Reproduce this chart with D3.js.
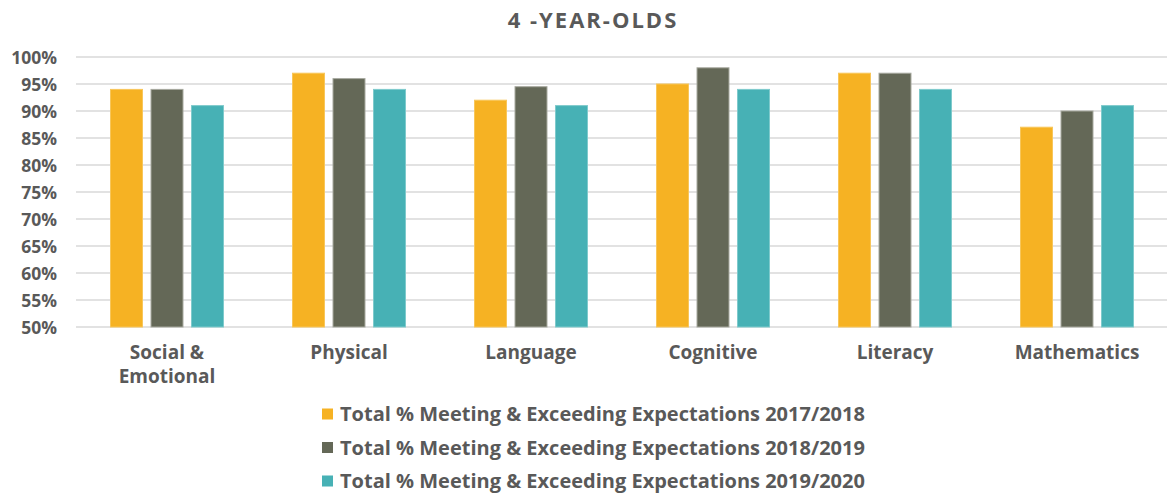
<!DOCTYPE html>
<html><head><meta charset="utf-8">
<script src="https://cdn.jsdelivr.net/npm/d3@7"></script>
<style>body{margin:0;background:#fff;} text{font-family:"Open Sans",Lato,sans-serif;font-weight:bold;fill:#595959;}</style>
</head><body><svg id="c" width="1167" height="494"></svg>
<script>
const categories = ["Social & Emotional","Physical","Language","Cognitive","Literacy","Mathematics"];
const seriesNames = ["Total % Meeting & Exceeding Expectations 2017/2018","Total % Meeting & Exceeding Expectations 2018/2019","Total % Meeting & Exceeding Expectations 2019/2020"];
const s2017 = [94, 97, 92, 95, 97, 87];
const s2018 = [94, 96, 94.5, 98, 97, 90];
const s2019 = [91, 94, 91, 94, 94, 91];
const yTicks = [50,55,60,65,70,75,80,85,90,95,100];
const colors = ["#F6B223","#646857","#47B1B5"];
const strokes = ["#F8C65A","#A7A99F","#7FCACC"];
const series = [s2017, s2018, s2019];

const svg = d3.select("#c");
const x = d3.scaleBand().domain(categories).range([76,1168]).paddingInner(0).paddingOuter(0);
const y = d3.scaleLinear().domain([50,100]).range([327,57]);
const xs = d3.scaleBand().domain([0,1,2]).range([0,x.bandwidth()]).paddingInner(0.21).paddingOuter(0.852);

svg.append("text").attr("x",593).attr("y",28).attr("text-anchor","middle")
  .style("font-size","22px").style("letter-spacing","2px").text("4 -YEAR-OLDS");

const g = svg.append("g");
g.selectAll("line.grid").data(yTicks).join("line").attr("x1",76).attr("x2",1167)
  .attr("y1",d=>y(d)).attr("y2",d=>y(d)).attr("stroke","#D9D9D9").attr("stroke-width",1.3);

const yAxis = d3.axisLeft(y).tickValues(yTicks).tickFormat(d=>d+"%").tickSize(0).tickPadding(0);
const ya = svg.append("g").attr("transform","translate(57,0)").call(yAxis);
ya.select(".domain").remove();
ya.selectAll("text").style("font-size","17.5px").attr("dy","0.35em").style("font-family",null);

series.forEach((vals,si)=>{
  svg.append("g").selectAll("rect").data(vals).join("rect")
    .attr("x",(d,i)=>x(categories[i])+xs(si)).attr("width",xs.bandwidth())
    .attr("y",d=>y(d)).attr("height",d=>y(50)-y(d))
    .attr("fill",colors[si]).attr("stroke",strokes[si]).attr("stroke-width",1);
});

const xl = svg.append("g");
categories.forEach(c=>{
  const t = xl.append("text").attr("x",x(c)+x.bandwidth()/2).attr("y",359).attr("text-anchor","middle").style("font-size","19px");
  const parts = c==="Social & Emotional" ? ["Social &","Emotional"] : [c];
  parts.forEach((p,i)=>t.append("tspan").attr("x",x(c)+x.bandwidth()/2).attr("dy",i?24:0).text(p));
});

const lg = svg.append("g");
seriesNames.forEach((n,i)=>{
  const yy = 414 + i*33.5;
  lg.append("rect").attr("x",322).attr("y",yy-5.5).attr("width",11).attr("height",11).attr("fill",colors[i]);
  lg.append("text").attr("x",340).attr("y",yy).attr("dy","0.35em").style("font-size","20px").text(n);
});
</script></body></html>
